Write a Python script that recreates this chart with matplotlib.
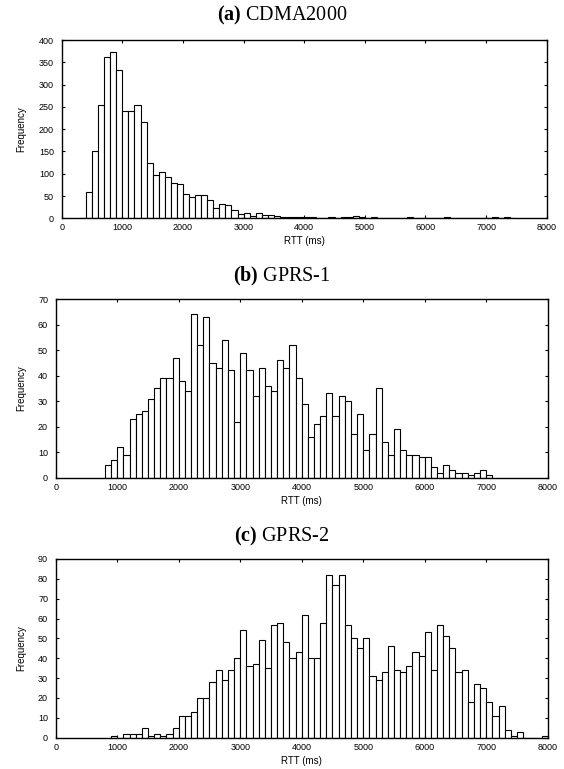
import numpy as np
import matplotlib
matplotlib.use("Agg")
import matplotlib.pyplot as plt

plt.rcParams['font.family'] = ['Liberation Sans', 'DejaVu Sans']
plt.rcParams['mathtext.fontset'] = 'custom'
plt.rcParams['mathtext.rm'] = 'Liberation Serif'
plt.rcParams['mathtext.bf'] = 'Liberation Serif:bold'

BIN = 100  # histogram bin width (ms)

# (a) CDMA2000: counts per 100 ms bin, first bin starts at 300 ms
cdma_start = 300
cdma_counts = [1, 60, 152, 255, 362, 373, 332, 240, 240, 254, 216, 124, 97, 103,
               92, 80, 76, 55, 48, 53, 52, 42, 22, 31, 29, 18, 10, 12, 6, 12, 8,
               8, 6, 2, 2, 4, 2,
               3, 2, 1, 1, 2, 1, 3, 2, 5, 4, 1, 2, 1, 1, 0, 1, 1, 3, 1, 0, 1, 1,
               0, 2, 1, 0, 1, 0, 1, 1, 1, 2, 1, 2, 1]

# (b) GPRS-1: first bin starts at 800 ms
gprs1_start = 800
gprs1_counts = [5, 7, 12, 9, 23, 25, 26, 31, 35, 39, 39, 47, 38, 34, 64, 52, 63,
                45, 43, 54, 42, 22, 49, 42, 32, 43, 36, 34, 46, 43, 52, 39, 29,
                16, 21, 24, 33, 24, 32, 30, 17, 25, 11, 17, 35, 14, 9, 19, 11, 9,
                9, 8, 8, 4, 2, 5, 3, 2, 2, 1, 2, 3, 1]

# (c) GPRS-2: first bin starts at 900 ms
gprs2_start = 900
gprs2_counts = [1, 0, 2, 2, 2, 5, 1, 2, 1, 2, 5, 11, 11, 13, 20, 20, 28, 34, 29,
                34, 40, 54, 36, 37, 49, 35, 57, 58, 48, 40, 43, 62, 40, 40, 58,
                82, 77, 82, 57, 50, 45, 50, 31, 29, 33, 46, 34, 33, 36, 43, 41,
                53, 34, 57, 51, 45, 33, 34, 18, 27, 25, 18, 11, 16, 4, 1, 3, 0,
                0, 0, 1]

panels = [
    (r"$\mathbf{(a)}$ CDMA2000", cdma_start, cdma_counts, 400, 50),
    (r"$\mathbf{(b)}$ GPRS-1", gprs1_start, gprs1_counts, 70, 10),
    (r"$\mathbf{(c)}$ GPRS-2", gprs2_start, gprs2_counts, 90, 10),
]

W, H = 564, 769
fig = plt.figure(figsize=(W / 100, H / 100), dpi=100)

# axes boxes in pixels: left, top, right, bottom
boxes = [(61.7, 40, 546.7, 218.3),
         (55.7, 299, 547.7, 477.7),
         (55.7, 559, 547.7, 737.7)]
title_y = [15, 276, 536]

for (title, start, counts, ymax, ystep), (l, t, r, b), ty in zip(panels, boxes, title_y):
    ax = fig.add_axes([l / W, 1 - b / H, (r - l) / W, (b - t) / H])
    edges = start + BIN * np.arange(len(counts))
    ax.bar(edges, counts, width=BIN, align='edge', facecolor='white',
           edgecolor='black', linewidth=0.8)
    ax.set_xlim(0, 8000)
    ax.set_ylim(0, ymax)
    ax.set_xticks(np.arange(0, 8001, 1000))
    ax.set_yticks(np.arange(0, ymax + 1, ystep))
    ax.tick_params(direction='in', top=True, right=True, length=2.5,
                   width=0.8, labelsize=6.5, colors='black')
    ax.tick_params(axis='x', pad=3.5)
    ax.tick_params(axis='y', pad=5.5)
    for s in ax.spines.values():
        s.set_linewidth(1.0)
    ax.set_xlabel("RTT (ms)", fontsize=7, labelpad=3)
    ax.set_ylabel("Frequency", fontsize=7)
    ax.yaxis.set_label_coords(26 / W, 1 - (t + b) / 2 / H, transform=fig.transFigure)
    fig.text(0.5, 1 - ty / H, title, ha='center', va='center', fontsize=14.5,
             family='Liberation Serif')

fig.savefig("out.png", dpi=100)
